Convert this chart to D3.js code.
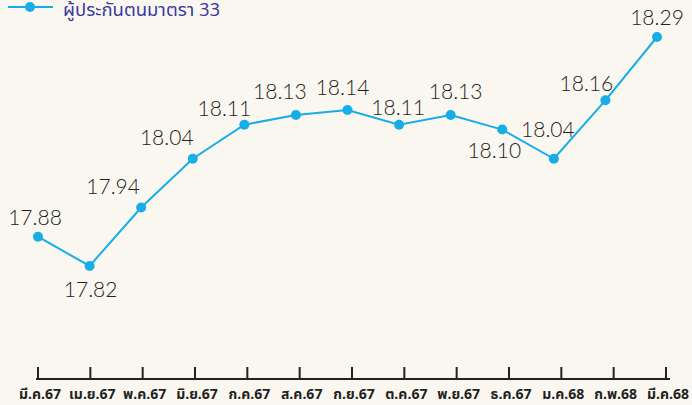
<!DOCTYPE html>
<html>
<head>
<meta charset="utf-8">
<script src="https://cdn.jsdelivr.net/npm/d3@7"></script>
<style>
  body { margin: 0; background: #faf7f0; }
  svg { display: block; }
  .val { font-family: "Lato", "Noto Sans", sans-serif; font-weight: 300; font-size: 21px; fill: #222; }
  .month { font-family: "Noto Sans Thai", "Noto Sans", "DejaVu Sans", sans-serif; font-weight: 700; font-size: 14px; fill: #222; }
  .legend-text { font-family: "Noto Sans Thai", "Noto Sans", "DejaVu Sans", sans-serif; font-size: 18.5px; fill: #3a3aa0; }
</style>
</head>
<body>
<div id="chart"></div>
<script>
const width = 692
const height = 405
const lineColor = "#17aee8"

const months = ["มี.ค.67", "เม.ย.67", "พ.ค.67", "มิ.ย.67", "ก.ค.67", "ส.ค.67", "ก.ย.67",
    "ต.ค.67", "พ.ย.67", "ธ.ค.67", "ม.ค.68", "ก.พ.68", "มี.ค.68"]
const values = [17.88, 17.82, 17.94, 18.04, 18.11, 18.13, 18.14, 18.11, 18.13, 18.10, 18.04, 18.16, 18.29]
const seriesName = "ผู้ประกันตนมาตรา 33"

// label nudges relative to each point (layout only)
const labelDx = [-3, 1, -28, -26, -20, -16, -5, -1, 5, -8, -6, -19, 0]
const labelDy = [-12, 31, -14, -14, -9, -16, -15, -10, -16, 28, -22, -9, -12]

const svg = d3.select("#chart")
    .append("svg")
    .attr("width", width)
    .attr("height", height)

const x = d3.scalePoint()
    .domain(months)
    .range([38, 657])

const xAxisScale = d3.scalePoint()
    .domain(months)
    .range([38, 666])

const y = d3.scaleLinear()
    .domain([17.59, 18.29])
    .range([378, 37])

// axis
const axisY = 379
svg.append("line")
    .attr("x1", 36)
    .attr("x2", 670)
    .attr("y1", axisY)
    .attr("y2", axisY)
    .attr("stroke", "#222")
    .attr("stroke-width", 2)

svg.selectAll(".tick-mark")
    .data(months)
    .enter()
    .append("line")
    .attr("class", "tick-mark")
    .attr("x1", d => xAxisScale(d))
    .attr("x2", d => xAxisScale(d))
    .attr("y1", axisY - 12)
    .attr("y2", axisY)
    .attr("stroke", "#222")
    .attr("stroke-width", 2)

svg.selectAll(".month")
    .data(months)
    .enter()
    .append("text")
    .attr("class", "month")
    .attr("x", d => xAxisScale(d) + 2)
    .attr("y", 399)
    .attr("text-anchor", "middle")
    .text(d => d)

// line
const line = d3.line()
    .x((d, i) => x(months[i]))
    .y(d => y(d))

svg.append("path")
    .datum(values)
    .attr("fill", "none")
    .attr("stroke", lineColor)
    .attr("stroke-width", 2)
    .attr("d", line)

svg.selectAll(".dot")
    .data(values)
    .enter()
    .append("circle")
    .attr("class", "dot")
    .attr("cx", (d, i) => x(months[i]))
    .attr("cy", d => y(d))
    .attr("r", 5)
    .attr("fill", lineColor)

svg.selectAll(".val")
    .data(values)
    .enter()
    .append("text")
    .attr("class", "val")
    .attr("x", (d, i) => x(months[i]) + labelDx[i])
    .attr("y", (d, i) => y(d) + labelDy[i])
    .attr("text-anchor", "middle")
    .text(d => d.toFixed(2))

// legend
svg.append("line")
    .attr("x1", 8)
    .attr("x2", 53)
    .attr("y1", 7)
    .attr("y2", 7)
    .attr("stroke", lineColor)
    .attr("stroke-width", 2)
svg.append("circle")
    .attr("cx", 30)
    .attr("cy", 7)
    .attr("r", 5)
    .attr("fill", lineColor)
svg.append("text")
    .attr("class", "legend-text")
    .attr("x", 63)
    .attr("y", 16)
    .text(seriesName)
</script>
</body>
</html>
